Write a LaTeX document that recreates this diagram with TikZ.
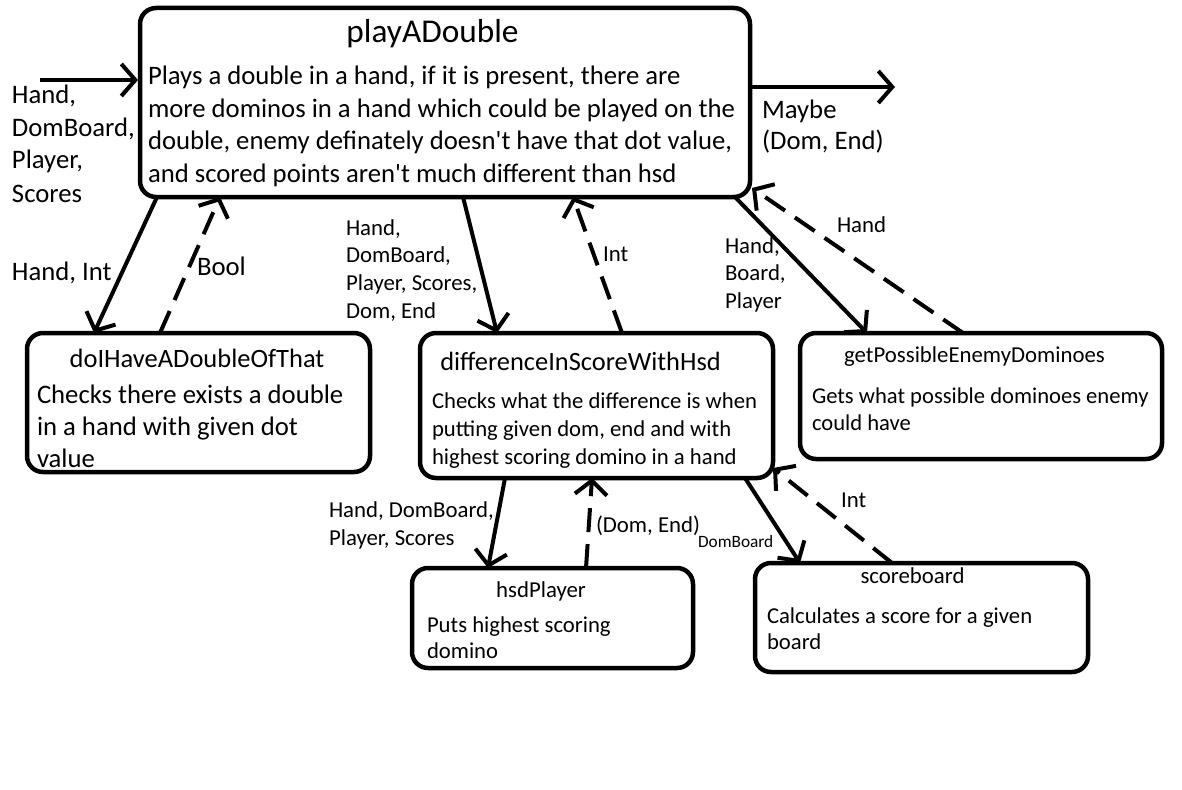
\documentclass[tikz,border=0pt]{standalone}
\usepackage{fontspec}
\setmainfont{Carlito}
\usetikzlibrary{arrows.meta}
\newcommand\fsz[2]{\fontsize{#1}{#2}\selectfont}
\newcommand\lns[1]{\begin{tabular}[t]{@{}l@{}}#1\end{tabular}}
\newcommand\q{\textquotesingle}
\begin{document}
\begin{tikzpicture}[x=1pt,y=-1pt,
  box/.style={draw, line width=4.5pt, rounded corners=16pt, inner sep=0pt, outer sep=0pt},
  txt/.style={inner sep=0pt, outer sep=0pt, anchor=base west},
  ttl/.style={inner sep=0pt, outer sep=0pt, anchor=base},
  big/.style={font=\fsz{26.7}{33}},
  small/.style={font=\fsz{22.8}{28}},
  conn/.style={line width=4pt, -{Straight Barb[length=14pt,width=32pt]}},
  ret/.style={conn, dash pattern=on 24pt off 12pt}]
\path[fill=white] (0,0) rectangle (1182,789);
\useasboundingbox (0,0) rectangle (1182,789);

% boxes
\node[box, minimum width=610pt, minimum height=189pt] (play) at (445,102.5) {};
\node[box, minimum width=343pt, minimum height=139pt] (dbl) at (198.5,402.5) {};
\node[box, minimum width=353pt, minimum height=145pt] (diff) at (596.5,405.5) {};
\node[box, minimum width=362pt, minimum height=126pt] (enemy) at (981,396) {};
\node[box, minimum width=281pt, minimum height=100pt] (hsd) at (552.5,618) {};
\node[box, minimum width=333pt, minimum height=109pt] (score) at (921.5,617.5) {};

% titles and bodies
\node[ttl, font=\fsz{33.3}{38}] (playT) at (432.5,43) {playADouble};
\node[txt, font=\fsz{26.7}{32.5}] (playB) at (148,85) {\lns{Plays a double in a hand, if it is present, there are\\more dominos in a hand which could be played on the\\double, enemy definately doesn\q t have that dot value,\\and scored points aren\q t much different than hsd}};
\node[ttl, font=\fsz{26.5}{32}] (dblT) at (197,367) {doIHaveADoubleOfThat};
\node[txt, font=\fsz{26.7}{32}] (dblB) at (37,403) {\lns{Checks there exists a double\\in a hand with given dot\\value}};
\node[ttl, font=\fsz{26.4}{32}] (diffT) at (580.5,370) {differenceInScoreWithHsd};
\node[txt, font=\fsz{22.7}{28}] (diffB) at (432,408) {\lns{Checks what the difference is when\\putting given dom, end and with\\highest scoring domino in a hand}};
\node[ttl, small] (enemyT) at (974.5,362) {getPossibleEnemyDominoes};
\node[txt, font=\fsz{22.6}{27}] (enemyB) at (812,403) {\lns{Gets what possible dominoes enemy\\could have}};
\node[ttl, small] (hsdT) at (541,597) {hsdPlayer};
\node[txt, font=\fsz{22.7}{26}] (hsdB) at (427,632) {\lns{Puts highest scoring\\domino}};
\node[ttl, small] (scoreT) at (912.5,583) {scoreboard};
\node[txt, font=\fsz{22.7}{26}] (scoreB) at (767,623) {\lns{Calculates a score for a given\\board}};

% free ends
\coordinate (inS) at (40,80);
\coordinate (outE) at (895,87);

% connectors
\draw[conn] (inS) -- ([xshift=-2pt,yshift=-72pt]play.north west);
\draw[conn] ([yshift=-79pt]play.north east) -- (outE);
\draw[conn] ([xshift=17pt]play.south west) -- ([xshift=67pt]dbl.north west);
\draw[ret] ([xshift=133pt]dbl.north west) -- ([xshift=80pt]play.south west);
\draw[conn] ([xshift=323pt]play.south west) -- ([xshift=77pt]diff.north west);
\draw[ret] ([xshift=202pt]diff.north west) -- ([xshift=433pt]play.south west);
\draw[conn] ([xshift=-15pt]play.south east) -- ([xshift=67pt]enemy.north west);
\draw[ret] ([xshift=163pt]enemy.north west) -- ([xshift=2pt,yshift=9pt]play.south east);
\draw[conn] ([xshift=85pt]diff.south west) -- ([xshift=76pt]hsd.north west);
\draw[ret] ([xshift=174pt]hsd.north west) -- ([xshift=172pt]diff.south west);
\draw[conn] ([xshift=-28pt]diff.south east) -- ([xshift=45pt]score.north west);
\draw[ret] ([xshift=137pt]score.north west) -- ([yshift=10pt]diff.south east);

% labels
\node[txt, big] (lIn) at (12,103) {\lns{Hand,\\DomBoard,\\Player,\\Scores}};
\node[txt, font=\fsz{26.7}{32}] (lOut) at (762,118) {\lns{Maybe\\(Dom, End)}};
\node[txt, big] (lHI) at (12,280) {Hand, Int};
\node[txt, big] (lBool) at (197,275) {Bool};
\node[txt, font=\fsz{22.8}{27.7}] (lDiffIn) at (346,235) {\lns{Hand,\\DomBoard,\\Player, Scores,\\Dom, End}};
\node[txt, small] (lInt1) at (603,261) {Int};
\node[txt, font=\fsz{22.8}{27.5}] (lEnIn) at (725,253) {\lns{Hand,\\Board,\\Player}};
\node[txt, small] (lHand) at (837,232) {Hand};
\node[txt, small] (lHsdIn) at (329,517) {\lns{Hand, DomBoard,\\Player, Scores}};
\node[txt, small] (lDE) at (596,532) {(Dom, End)};
\node[txt, font=\fsz{17.3}{20}] (lDB) at (698,547) {DomBoard};
\node[txt, small] (lInt2) at (841,507) {Int};
\end{tikzpicture}
\end{document}
